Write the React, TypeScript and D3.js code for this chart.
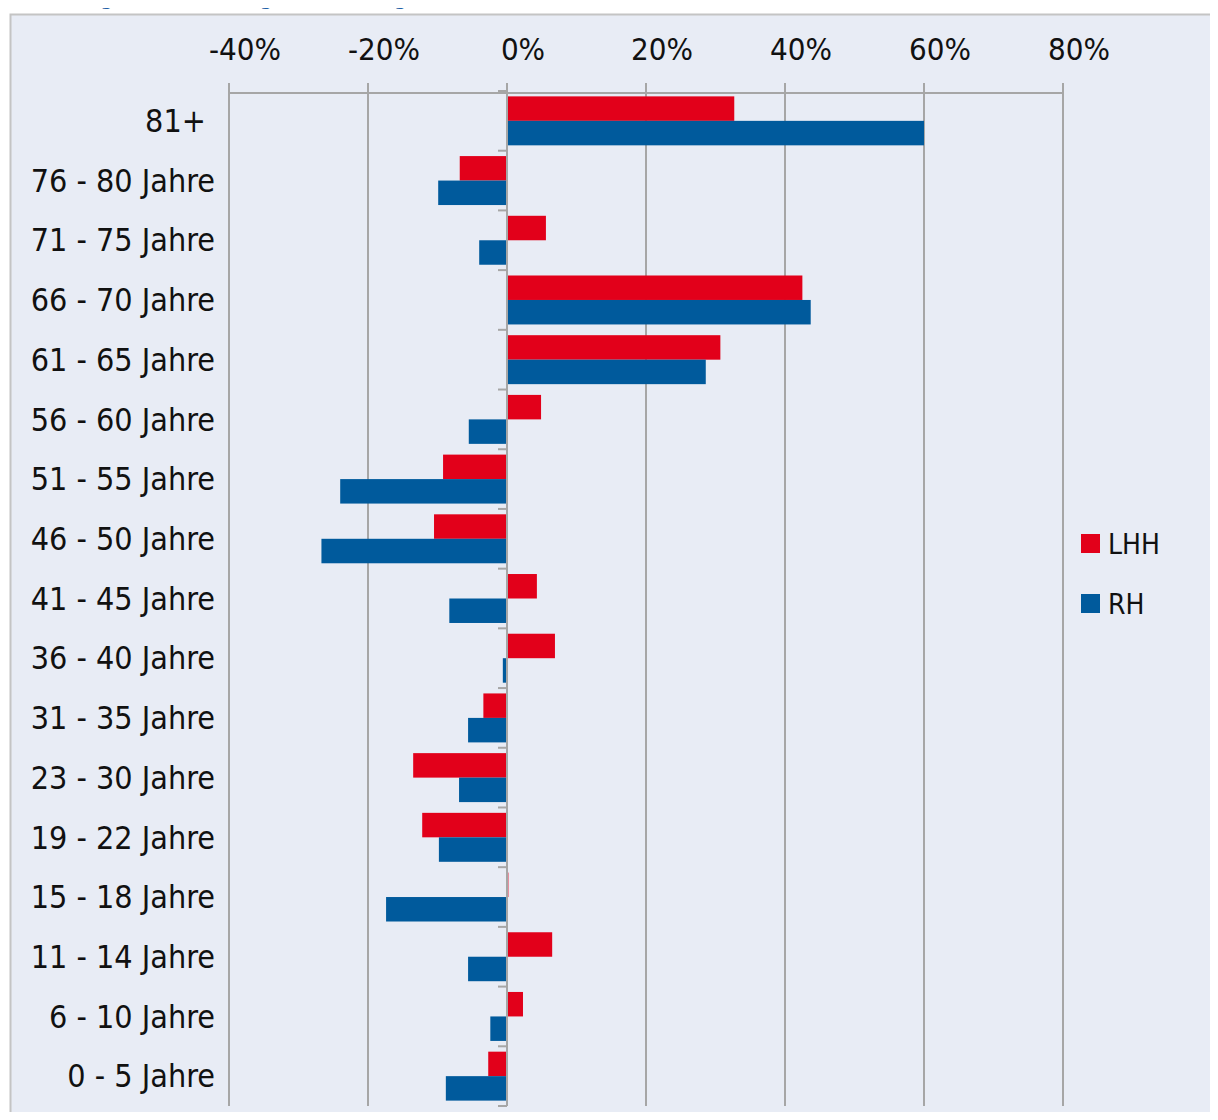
import React, { useEffect, useRef } from "react";
import * as d3 from "d3";

const categories = [
  "81+ ",
  "76 - 80 Jahre",
  "71 - 75 Jahre",
  "66 - 70 Jahre",
  "61 - 65 Jahre",
  "56 - 60 Jahre",
  "51 - 55 Jahre",
  "46 - 50 Jahre",
  "41 - 45 Jahre",
  "36 - 40 Jahre",
  "31 - 35 Jahre",
  "23 - 30 Jahre",
  "19 - 22 Jahre",
  "15 - 18 Jahre",
  "11 - 14 Jahre",
  "6 - 10 Jahre",
  "0 - 5 Jahre",
];

// change 2013 -> 2030 in percent
const lhh = [32.7, -6.8, 5.6, 42.5, 30.7, 4.9, -9.2, -10.5, 4.3, 6.9, -3.4, -13.5, -12.2, 0.2, 6.5, 2.3, -2.7];
const rh = [60.0, -9.9, -4.0, 43.7, 28.6, -5.5, -24.0, -26.7, -8.3, -0.6, -5.6, -6.9, -9.8, -17.4, -5.6, -2.4, -8.8];

const seriesNames = ["LHH", "RH"];
const seriesColors = ["#e2001a", "#005a9c"];
const xTicks = [-40, -20, 0, 20, 40, 60, 80];

const title = "Abbildung 3: Bevölkerungsentwicklung in den Altersklassen von 2013 bis 2030";

const App = () => {
  const svgRef = useRef<SVGSVGElement>(null);

  useEffect(() => {
    const svg = d3.select(svgRef.current);
    svg.selectAll("*").remove();

    const width = 1218;
    const height = 1120;
    const font = "'DejaVu Sans Condensed', 'DejaVu Sans', sans-serif";
    const grid = "#a6a6a6";

    // panel
    svg.append("rect").attr("width", width).attr("height", height).attr("fill", "#ffffff");
    svg
      .append("rect")
      .attr("x", 10.5)
      .attr("y", 14.5)
      .attr("width", width)
      .attr("height", height)
      .attr("fill", "#e8ecf5")
      .attr("stroke", "#c4c4c4")
      .attr("stroke-width", 2);

    // title, cut off at the top edge like in the source
    svg
      .append("text")
      .attr("x", 10)
      .attr("y", 5)
      .attr("fill", "#1f5fa6")
      .attr("font-family", font)
      .attr("font-weight", "bold")
      .attr("font-size", 20)
      .text(title);

    const top = 91;
    const bottom = 1106;

    const x = d3.scaleLinear().domain([-40, 80]).range([229, 1063]);
    const y = d3.scaleBand().domain(categories).range([top, bottom]).paddingInner(0.18).paddingOuter(0.09);
    const ySub = d3.scaleBand().domain(seriesNames).range([0, y.bandwidth()]);

    // vertical gridlines
    svg
      .append("g")
      .selectAll("line")
      .data(xTicks)
      .enter()
      .append("line")
      .attr("x1", (d) => x(d))
      .attr("x2", (d) => x(d))
      .attr("y1", 83)
      .attr("y2", bottom)
      .attr("stroke", grid)
      .attr("stroke-width", 2);

    // top axis line
    svg
      .append("line")
      .attr("x1", x(-40))
      .attr("x2", x(80))
      .attr("y1", 93)
      .attr("y2", 93)
      .attr("stroke", grid)
      .attr("stroke-width", 2);

    svg
      .append("g")
      .selectAll("text")
      .data(xTicks)
      .enter()
      .append("text")
      .attr("x", (d) => x(d) + 16)
      .attr("y", 60)
      .attr("text-anchor", "middle")
      .attr("font-family", font)
      .attr("font-size", 31)
      .attr("fill", "#111")
      .text((d) => `${d}%`);

    // bars
    const groups = svg
      .append("g")
      .selectAll("g")
      .data(categories)
      .enter()
      .append("g")
      .attr("transform", (d) => `translate(0,${y(d)})`);

    [lhh, rh].forEach((values, si) => {
      groups
        .append("rect")
        .attr("x", (_, i) => x(Math.min(0, values[i])))
        .attr("y", ySub(seriesNames[si]))
        .attr("width", (_, i) => Math.abs(x(values[i]) - x(0)))
        .attr("height", ySub.bandwidth())
        .attr("fill", seriesColors[si]);
    });

    // category axis at 0
    const step = y.step();
    svg
      .append("line")
      .attr("x1", x(0))
      .attr("x2", x(0))
      .attr("y1", top)
      .attr("y2", bottom)
      .attr("stroke", grid)
      .attr("stroke-width", 2);

    svg
      .append("g")
      .selectAll("line")
      .data(d3.range(categories.length + 1))
      .enter()
      .append("line")
      .attr("x1", x(0) - 9)
      .attr("x2", x(0))
      .attr("y1", (i) => top + i * step)
      .attr("y2", (i) => top + i * step)
      .attr("stroke", grid)
      .attr("stroke-width", 2);

    svg
      .append("g")
      .selectAll("text")
      .data(categories)
      .enter()
      .append("text")
      .attr("x", 215)
      .attr("y", (d) => (y(d) as number) + y.bandwidth() / 2)
      .attr("dy", "0.35em")
      .attr("text-anchor", "end")
      .attr("xml:space", "preserve")
      .style("white-space", "pre")
      .attr("font-family", font)
      .attr("font-size", 32)
      .attr("fill", "#111")
      .text((d) => d);

    // legend
    const legend = svg
      .append("g")
      .selectAll("g")
      .data(seriesNames)
      .enter()
      .append("g")
      .attr("transform", (_, i) => `translate(1081,${534 + i * 60})`);

    legend
      .append("rect")
      .attr("width", 19)
      .attr("height", 19)
      .attr("fill", (_, i) => seriesColors[i]);

    legend
      .append("text")
      .attr("x", 27)
      .attr("y", 10)
      .attr("dy", "0.35em")
      .attr("font-family", font)
      .attr("font-size", 28)
      .attr("fill", "#111")
      .text((d) => d);
  }, []);

  return (
    <div style={{ margin: -8 }}>
      <svg ref={svgRef} width={1218} height={1120} style={{ display: "block" }}></svg>
    </div>
  );
};

export default App;
